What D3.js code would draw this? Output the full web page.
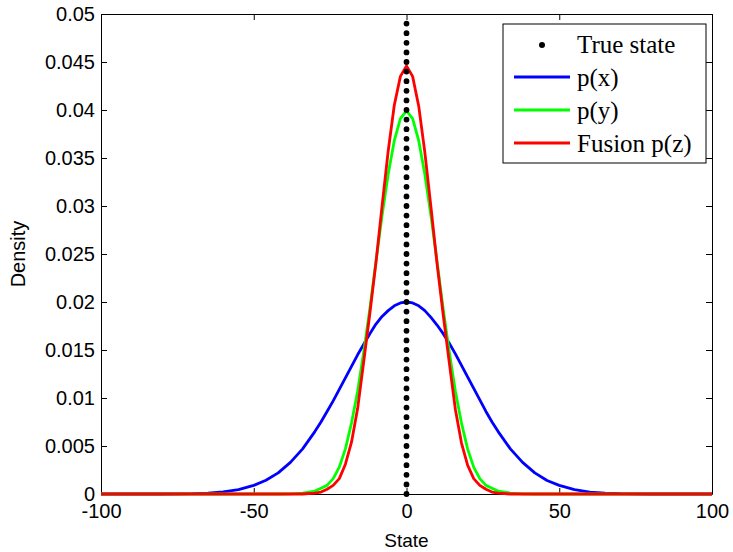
<!DOCTYPE html>
<html>
<head>
<meta charset="utf-8">
<script src="https://cdn.jsdelivr.net/npm/d3@7"></script>
<style>
  body { margin: 0; background: #fff; }
  svg { display: block; }
  .axis text { font-family: "Liberation Sans", Arial, Helvetica, sans-serif; font-size: 20px; fill: #000; }
  .axis path, .axis line { stroke: #000; stroke-width: 1; }
</style>
</head>
<body>
<svg id="chart"></svg>
<script>
// state grid (x) shared by all three densities
var states = [-100, -80, -70, -65, -60, -55, -50, -46, -42, -38, -34,
  -30, -28, -26, -24, -22, -20, -18, -16, -14, -12, -10, -8, -6, -4, -2,
  0, 2, 4, 6, 8, 10, 12, 14, 16, 18, 20, 22, 24, 26, 28, 30,
  34, 38, 42, 46, 50, 55, 60, 65, 70, 80, 100];

// p(x) - wide prior
var px = [0, 0, 0.00004, 0.0001, 0.00022, 0.00046, 0.0009, 0.00143, 0.0022, 0.0033, 0.0047,
  0.0065, 0.0075, 0.0086, 0.0097, 0.0109, 0.0121, 0.0133, 0.0145, 0.0156, 0.0167, 0.0177, 0.0185, 0.0191, 0.0196, 0.0199,
  0.0200, 0.0199, 0.0196, 0.0191, 0.0184, 0.0176, 0.0167, 0.0157, 0.0146, 0.0134, 0.0122, 0.0110, 0.0098, 0.0086, 0.0075, 0.0065,
  0.0047, 0.0033, 0.0022, 0.0014, 0.0009, 0.00045, 0.0002, 0.0001, 0.00004, 0, 0];

// p(y) - measurement
var py = [0, 0, 0, 0, 0, 0, 0, 0, 0, 0.00002, 0.0001,
  0.0003, 0.0006, 0.0009, 0.0016, 0.0028, 0.0047, 0.0074, 0.0107, 0.0148, 0.0193, 0.0242, 0.0290, 0.0333, 0.0368, 0.0391,
  0.0399, 0.0391, 0.0368, 0.0333, 0.0290, 0.0242, 0.0193, 0.0148, 0.0107, 0.0074, 0.0047, 0.0028, 0.0016, 0.0009, 0.0006, 0.0003,
  0.0001, 0.00002, 0, 0, 0, 0, 0, 0, 0, 0, 0];

// fusion p(z)
var pz = [0, 0, 0, 0, 0, 0, 0, 0, 0, 0, 0,
  0.0001, 0.0002, 0.0005, 0.0009, 0.0016, 0.0031, 0.0054, 0.0089, 0.0138, 0.0188, 0.0241, 0.0300, 0.0357, 0.0405, 0.0435,
  0.0446, 0.0435, 0.0404, 0.0356, 0.0299, 0.0240, 0.0187, 0.0137, 0.0088, 0.0053, 0.0030, 0.0016, 0.0009, 0.0005, 0.0002, 0.0001,
  0, 0, 0, 0, 0, 0, 0, 0, 0, 0, 0];

var trueState = 0;
var xTicks = [-100, -50, 0, 50, 100];
var yTicks = [0, 0.005, 0.01, 0.015, 0.02, 0.025, 0.03, 0.035, 0.04, 0.045, 0.05];
var legendLabels = ["True state", "p(x)", "p(y)", "Fusion p(z)"];
var seriesColors = ["#0000ff", "#00ff00", "#ff0000"];

var width = 733, height = 552;
var margin = {top: 14, right: 21, bottom: 58, left: 101};

var svg = d3.select("#chart")
    .attr("width", width)
    .attr("height", height);

var x = d3.scaleLinear()
    .domain([-100, 100])
    .range([margin.left, width - margin.right]);

var y = d3.scaleLinear()
    .domain([0, 0.05])
    .range([height - margin.bottom, margin.top]);

var fmt = function(v) { return String(+v.toFixed(3)); };

// axes box, ticks pointing inward like matlab
svg.append("g")
    .attr("class", "axis")
    .attr("transform", "translate(0," + y(0) + ")")
    .call(d3.axisBottom(x).tickValues(xTicks).tickSizeInner(-6).tickSizeOuter(0).tickPadding(10).tickFormat(fmt));

svg.append("g")
    .attr("class", "axis")
    .attr("transform", "translate(0," + y(0.05) + ")")
    .call(d3.axisTop(x).tickValues(xTicks).tickSizeInner(-6).tickSizeOuter(0).tickFormat(""));

svg.append("g")
    .attr("class", "axis")
    .attr("transform", "translate(" + x(-100) + ",0)")
    .call(d3.axisLeft(y).tickValues(yTicks).tickSizeInner(-6).tickSizeOuter(0).tickPadding(6).tickFormat(fmt));

svg.append("g")
    .attr("class", "axis")
    .attr("transform", "translate(" + x(100) + ",0)")
    .call(d3.axisRight(y).tickValues(yTicks).tickSizeInner(-6).tickSizeOuter(0).tickFormat(""));

// axis labels
svg.append("text")
    .attr("x", x(0))
    .attr("y", 547)
    .attr("text-anchor", "middle")
    .style("font-family", "'Liberation Sans', Arial, sans-serif")
    .style("font-size", "19px")
    .text("State");

svg.append("text")
    .attr("transform", "translate(25," + y(0.025) + ") rotate(-90)")
    .attr("text-anchor", "middle")
    .style("font-family", "'Liberation Sans', Arial, sans-serif")
    .style("font-size", "20px")
    .text("Density");

// density curves
var line = d3.line()
    .x(function(d) { return x(d[0]); })
    .y(function(d) { return y(d[1]); });

[px, py, pz].forEach(function(series, i) {
    svg.append("path")
        .datum(d3.zip(states, series))
        .attr("d", line)
        .attr("fill", "none")
        .attr("stroke", seriesColors[i])
        .attr("stroke-width", 2.8)
        .attr("stroke-linejoin", "round");
});

// true state, dotted vertical marker
var dotStep = y(0) - y(0.001);
svg.append("line")
    .attr("x1", x(trueState))
    .attr("x2", x(trueState))
    .attr("y1", y(0))
    .attr("y2", y(0.05))
    .attr("stroke", "#000")
    .attr("stroke-width", 5.8)
    .attr("stroke-linecap", "round")
    .attr("stroke-dasharray", "0," + dotStep);

// legend
var lg = svg.append("g");
lg.append("rect")
    .attr("x", 503).attr("y", 24)
    .attr("width", 203).attr("height", 139)
    .attr("fill", "#fff")
    .attr("stroke", "#000")
    .attr("stroke-width", 1);

var rows = lg.selectAll("g.row")
    .data(legendLabels)
    .enter()
    .append("g")
    .attr("class", "row")
    .attr("transform", function(d, i) { return "translate(0," + (45 + i * 33) + ")"; });

rows.each(function(d, i) {
    var r = d3.select(this);
    if (i === 0) {
        r.append("circle").attr("cx", 542).attr("cy", 0).attr("r", 3).attr("fill", "#000");
    } else {
        r.append("line")
            .attr("x1", 514).attr("x2", 570)
            .attr("y1", -1).attr("y2", -1)
            .attr("stroke", seriesColors[i - 1])
            .attr("stroke-width", 2.8);
    }
    r.append("text")
        .attr("x", 577)
        .attr("dy", "0.33em")
        .style("font-family", "'Liberation Serif', 'Times New Roman', serif")
        .style("font-size", "25px")
        .text(d);
});
</script>
</body>
</html>
